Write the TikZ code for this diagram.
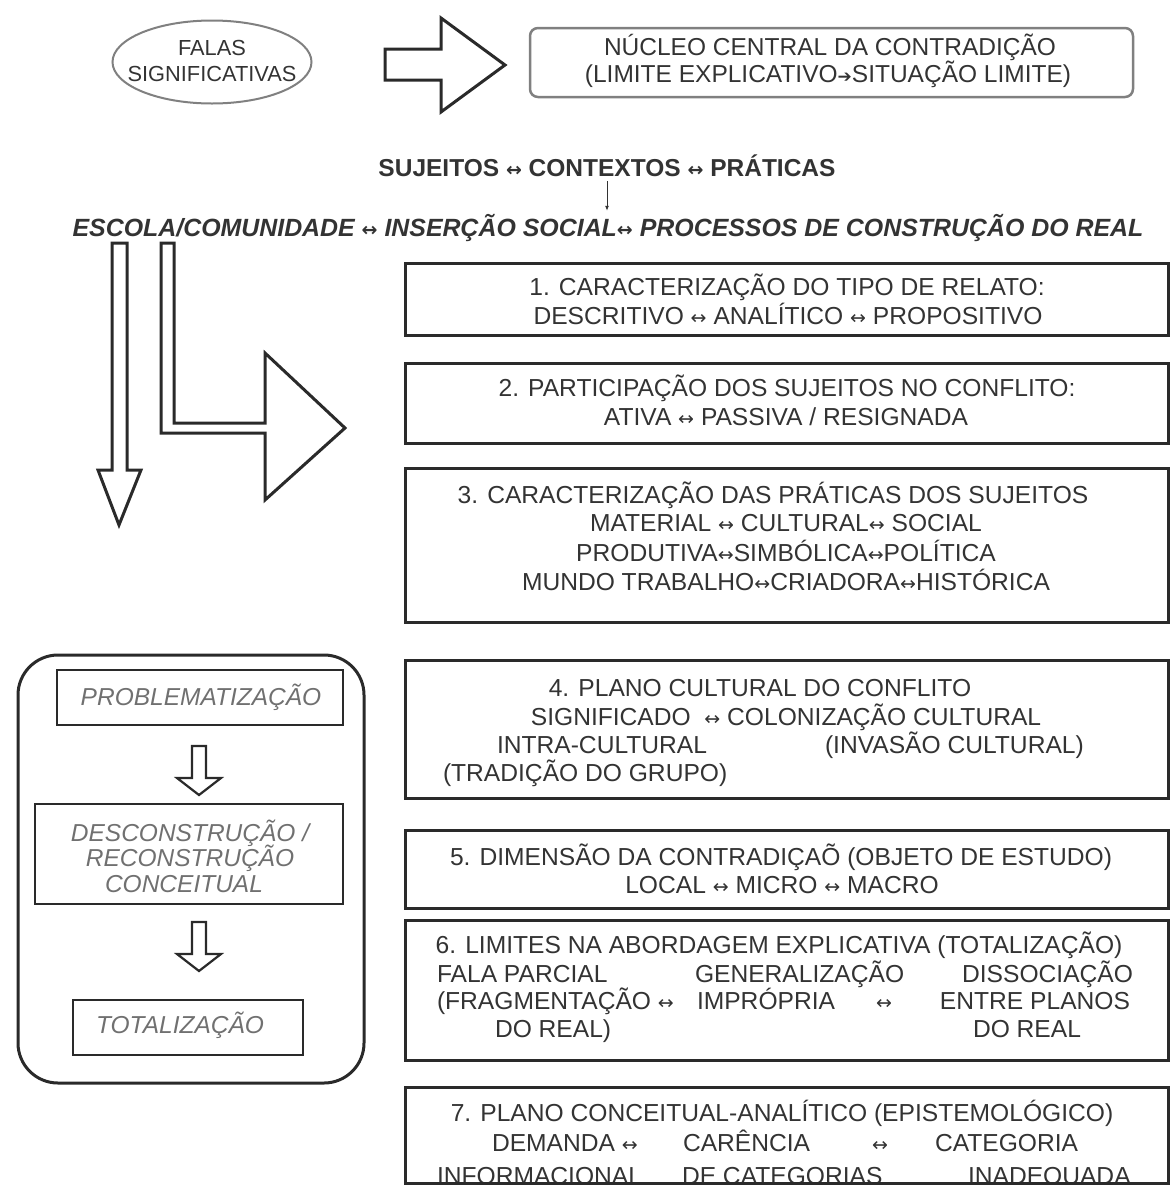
\documentclass[tikz,border=0pt]{standalone}
\usepackage{fontspec}
\setmainfont{Liberation Sans}
\newfontfamily\symfont{DejaVu Sans}
\usetikzlibrary{shapes.geometric,arrows.meta}
\definecolor{ink}{HTML}{333333}
\definecolor{soft}{HTML}{707070}
\definecolor{framecol}{HTML}{2A2A2A}
\definecolor{pale}{HTML}{808080}
% small two-headed arrow used between terms
\newcommand{\lr}{{\symfont\fontsize{19}{19}\selectfont ↔}}
\begin{document}
\begin{tikzpicture}[x=1pt,y=-1pt,
  every node/.style={inner sep=0pt, outer sep=0pt},
  frame/.style={draw=framecol, line width=3pt, rectangle, anchor=north west},
  body/.style={font=\fontsize{24.6}{29}\selectfont, text=ink, anchor=base},
  bodyw/.style={body, anchor=base west},
  bodye/.style={body, anchor=base east},
  stage/.style={font=\fontsize{24.5}{26}\selectfont\itshape, text=soft, anchor=base},
  block/.style={draw=framecol, line width=3pt, fill=white, line join=miter},
  thinblock/.style={draw=framecol, line width=2.2pt, fill=white, line join=miter}
]
\useasboundingbox (0,0) rectangle (1170,1187);
\clip (0,0) rectangle (1170,1187);

% ---------- top row ----------
\node[draw=pale, line width=2pt, ellipse, minimum width=199pt, minimum height=83pt] (falas) at (212,62) {};
\node[font=\fontsize{21.8}{26}\selectfont, text=ink, anchor=base] (falasA) at (212,55) {FALAS};
\node[font=\fontsize{21.8}{26}\selectfont, text=ink, anchor=base] (falasB) at (212,81) {SIGNIFICATIVAS};

\draw[block] (385,49) -- (441,49) -- (441,18) -- (505,65) -- (441,112) -- (441,80) -- (385,80) -- cycle;

\node[draw=pale, line width=2.5pt, rounded corners=8pt, rectangle, anchor=north west,
      minimum width=603pt, minimum height=69pt] (nucleo) at (530,28) {};
\node[font=\fontsize{24.5}{26}\selectfont, text=ink, anchor=base] (nucA) at (830,55.5) {NÚCLEO CENTRAL DA CONTRADIÇÃO};
\node[font=\fontsize{24.5}{26}\selectfont, text=ink, anchor=base] (nucB) at (828,82)
  {(LIMITE EXPLICATIVO{\symfont\fontsize{17}{17}\selectfont ➔}SITUAÇÃO LIMITE)};

% ---------- subjects / contexts / practices ----------
\node[font=\fontsize{24.5}{29}\selectfont\bfseries, text=ink, anchor=base] (suj) at (607,176)
  {SUJEITOS \lr{} CONTEXTOS \lr{} PRÁTICAS};
\node[font=\fontsize{24.9}{29}\selectfont\bfseries\itshape, text=ink, anchor=base] (esc) at (608,236)
  {ESCOLA/COMUNIDADE \lr{} INSERÇÃO SOCIAL\lr{} PROCESSOS DE CONSTRUÇÃO DO REAL};
\draw[ink, line width=1pt, -{Latex[length=5pt,width=4pt]}] ([yshift=-5pt]suj.south) -- ([yshift=3pt]suj.south |- esc.north);

% ---------- hollow arrows on the left ----------
\draw[block] (112,243) -- (112,470) -- (98,470) -- (119,525) -- (141,470) -- (127,470) -- (127,243) -- cycle;
\draw[block] (161,243) -- (161,433) -- (265,433) -- (265,500) -- (345,428) -- (265,353) -- (265,423)
  -- (174,423) -- (174,243) -- cycle;

% ---------- right column boxes ----------
\node[frame, minimum width=763pt, minimum height=72pt] (box1) at (405,263) {};
\node[body] (b1a) at (787,295.5) {1. CARACTERIZAÇÃO DO TIPO DE RELATO:};
\node[body] (b1b) at (788,324.5) {DESCRITIVO \lr{} ANALÍTICO \lr{} PROPOSITIVO};

\node[frame, minimum width=763pt, minimum height=80pt] (box2) at (405,363) {};
\node[body] (b2a) at (787,396.5) {2. PARTICIPAÇÃO DOS SUJEITOS NO CONFLITO:};
\node[body] (b2b) at (786,425.5) {ATIVA \lr{} PASSIVA / RESIGNADA};

\node[frame, minimum width=763pt, minimum height=154pt] (box3) at (405,468) {};
\node[body] (b3a) at (773,503.5) {3. CARACTERIZAÇÃO DAS PRÁTICAS DOS SUJEITOS};
\node[body] (b3b) at (786,531.5) {MATERIAL \lr{} CULTURAL\lr{} SOCIAL};
\node[body] (b3c) at (786,561.5) {PRODUTIVA\lr{}SIMBÓLICA\lr{}POLÍTICA};
\node[body] (b3d) at (786,590.5) {MUNDO TRABALHO\lr{}CRIADORA\lr{}HISTÓRICA};

\node[frame, minimum width=763pt, minimum height=138pt] (box4) at (405,660) {};
\node[body] (b4a) at (760,696.5) {4. PLANO CULTURAL DO CONFLITO};
\node[body] (b4b) at (786,725.5) {SIGNIFICADO \ \lr{} COLONIZAÇÃO CULTURAL};
\node[bodyw] (b4c) at (497,753.5) {INTRA-CULTURAL};
\node[bodyw] (b4d) at (825,753.5) {(INVASÃO CULTURAL)};
\node[bodyw] (b4e) at (443,781.5) {(TRADIÇÃO DO GRUPO)};

\node[frame, minimum width=763pt, minimum height=78pt] (box5) at (405,830) {};
\node[body] (b5a) at (781,865.5) {5. DIMENSÃO DA CONTRADIÇAÕ (OBJETO DE ESTUDO)};
\node[body] (b5b) at (782,893.5) {LOCAL \lr{} MICRO \lr{} MACRO};

\node[frame, minimum width=763pt, minimum height=140pt] (box6) at (405,920) {};
\node[body] (b6a) at (779,953.5) {6. LIMITES NA ABORDAGEM EXPLICATIVA (TOTALIZAÇÃO)};
\node[bodyw] (b6b) at (437,982.5) {FALA PARCIAL};
\node[bodyw] (b6c) at (695,982.5) {GENERALIZAÇÃO};
\node[bodye] (b6d) at (1133,982.5) {DISSOCIAÇÃO};
\node[bodyw] (b6e) at (437,1009.5) {(FRAGMENTAÇÃO \lr};
\node[bodyw] (b6f) at (697,1009.5) {IMPRÓPRIA};
\node[body] (b6g) at (884,1009.5) {\lr};
\node[bodye] (b6h) at (1130,1009.5) {ENTRE PLANOS};
\node[bodyw] (b6i) at (495,1037) {DO REAL)};
\node[bodyw] (b6j) at (973,1037) {DO REAL};

\node[bodyw] (b7f) at (437,1184) {INFORMACIONAL};
\node[bodyw] (b7g) at (682,1184) {DE CATEGORIAS};
\node[bodyw] (b7h) at (968,1184) {INADEQUADA};
% lower edge of the last panel trims its final line of text
\fill[white] (400,1182) rectangle (1170,1187);
\node[frame, minimum width=763pt, minimum height=96pt] (box7) at (405,1087) {};
\node[body] (b7a) at (782,1121.5) {7. PLANO CONCEITUAL-ANALÍTICO (EPISTEMOLÓGICO)};
\node[bodyw] (b7b) at (492,1151.5) {DEMANDA \lr};
\node[bodyw] (b7c) at (683,1151.5) {CARÊNCIA};
\node[body] (b7d) at (880,1151.5) {\lr};
\node[bodyw] (b7e) at (935,1151.5) {CATEGORIA};

% ---------- left stage panel ----------
\node[draw=framecol, line width=3pt, rounded corners=40pt, rectangle, anchor=north west,
      minimum width=346pt, minimum height=428pt] (panel) at (18,655) {};

\node[frame, line width=2.6pt, minimum width=286pt, minimum height=55pt] (prob) at (57,670) {};
\node[stage] (probT) at (201,705.5) {PROBLEMATIZAÇÃO};

\node[frame, line width=2.6pt, minimum width=308pt, minimum height=100pt] (decon) at (35,804) {};
\node[stage] (deconA) at (190,841.5) {DESCONSTRUÇÃO /};
\node[stage] (deconB) at (190,866.5) {RECONSTRUÇÃO};
\node[stage] (deconC) at (184,892) {CONCEITUAL};

\node[frame, line width=2.6pt, minimum width=230pt, minimum height=55pt] (total) at (73,1000) {};
\node[stage] (totalT) at (180,1033.5) {TOTALIZAÇÃO};

\draw[thinblock] (192,746) -- (192,778) -- (177,778) -- (199,795) -- (221,778) -- (206,778) -- (206,746) -- cycle;
\draw[thinblock] (192,922) -- (192,954) -- (177,954) -- (199,971) -- (221,954) -- (206,954) -- (206,922) -- cycle;
\end{tikzpicture}
\end{document}
